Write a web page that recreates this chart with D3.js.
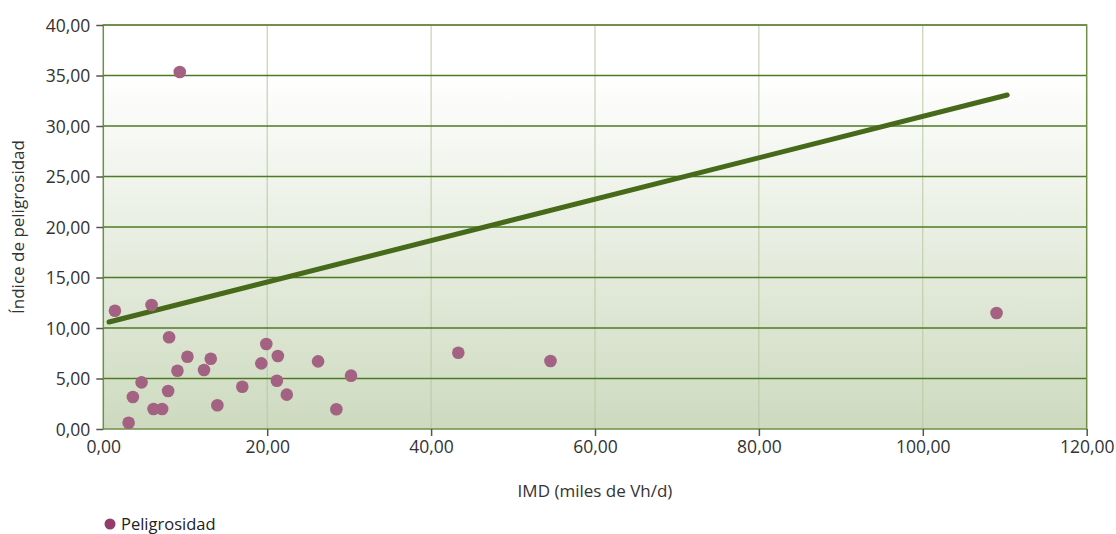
<!DOCTYPE html>
<html><head><meta charset="utf-8">
<script src="https://cdn.jsdelivr.net/npm/d3@7"></script>
<style>body{margin:0;background:#fff}svg{display:block}text{font-family:"Open Sans","Noto Sans",sans-serif}</style>
</head><body>
<svg id="c" width="1116" height="534"></svg>
<script>
const imd = [1.42,5.89,9.33,8.03,10.27,13.11,9.05,12.29,4.67,7.91,3.61,6.13,7.18,3.09,13.92,16.96,19.28,19.89,21.3,21.18,22.39,26.21,30.23,28.44,43.32,54.57,109.0];
const peligrosidad = [11.71,12.28,35.35,9.08,7.16,6.96,5.77,5.84,4.62,3.76,3.17,1.98,1.98,0.62,2.35,4.19,6.5,8.42,7.23,4.78,3.40,6.70,5.28,1.95,7.55,6.73,11.49];
const trendX = [0.7,110.3];
const trendY = [10.59,33.07];
const xTicks = [0,20,40,60,80,100,120];
const yTicks = [0,5,10,15,20,25,30,35,40];
const seriesName = "Peligrosidad";
const xTitle = "IMD (miles de Vh/d)";
const yTitle = "Índice de peligrosidad";

const svg = d3.select("#c");
const L=103.3, R=1086.7, T=25, B=429;
const x = d3.scaleLinear().domain([0,120]).range([L,R]);
const y = d3.scaleLinear().domain([0,40]).range([B,T]);
const fmt = d => d3.format(".2f")(d).replace(".",",");

const defs = svg.append("defs");
const g = defs.append("linearGradient").attr("id","bg").attr("x1",0).attr("y1",0).attr("x2",0).attr("y2",1);
g.append("stop").attr("offset","0").attr("stop-color","#ffffff");
g.append("stop").attr("offset","0.12").attr("stop-color","#ffffff");
g.append("stop").attr("offset","1").attr("stop-color","#cddabf");

svg.append("rect").attr("x",L).attr("y",T).attr("width",R-L).attr("height",B-T).attr("fill","url(#bg)");

// vertical grid
svg.append("g").selectAll("line").data(xTicks.slice(1,-1)).join("line")
  .attr("x1",d=>x(d)).attr("x2",d=>x(d)).attr("y1",T).attr("y2",B)
  .attr("stroke","#b9c9a3").attr("stroke-width",1);
// horizontal grid
svg.append("g").selectAll("line").data(yTicks.slice(1)).join("line")
  .attr("x1",L).attr("x2",R).attr("y1",d=>y(d)).attr("y2",d=>y(d))
  .attr("stroke","#4e7a24").attr("stroke-width",1.3);
// border
svg.append("rect").attr("x",L).attr("y",T).attr("width",R-L).attr("height",B-T)
  .attr("fill","none").attr("stroke","#6f8f45").attr("stroke-width",1.5);

// axes
const ya = svg.append("g").attr("transform",`translate(${L},0)`)
  .call(d3.axisLeft(y).tickValues(yTicks).tickFormat(fmt).tickSize(7).tickSizeOuter(0));
const xa = svg.append("g").attr("transform",`translate(0,${B})`)
  .call(d3.axisBottom(x).tickValues(xTicks).tickFormat(fmt).tickSize(7).tickSizeOuter(0));
[ya,xa].forEach(a=>{
  a.select(".domain").remove();
  a.selectAll(".tick line").attr("stroke","#555").attr("stroke-width",1.5);
  a.selectAll(".tick text").attr("fill","#333").style("font-size","17.5px");
});
ya.selectAll(".tick text").attr("x",-13).attr("dy","0.35em");
xa.selectAll(".tick text").attr("y",12).attr("dy","0.71em");
xa.select(".tick:first-of-type line").remove();

// trend line
svg.append("line")
  .attr("x1",x(trendX[0])).attr("y1",y(trendY[0]))
  .attr("x2",x(trendX[1])).attr("y2",y(trendY[1]))
  .attr("stroke","#46691a").attr("stroke-width",5).attr("stroke-linecap","round");

// points
svg.append("g").selectAll("circle").data(imd).join("circle")
  .attr("cx",d=>x(d)).attr("cy",(d,i)=>y(peligrosidad[i])).attr("r",6.3)
  .attr("fill","#a46283");

// titles
svg.append("text").attr("x",(L+R)/2).attr("y",497).attr("text-anchor","middle")
  .attr("fill","#333").style("font-size","17px").text(xTitle);
svg.append("text").attr("transform",`translate(24,${(T+B)/2}) rotate(-90)`).attr("text-anchor","middle")
  .attr("fill","#333").style("font-size","17px").text(yTitle);

// legend
svg.append("circle").attr("cx",110).attr("cy",524).attr("r",5.5).attr("fill","#933d6c");
svg.append("text").attr("x",121).attr("y",530).attr("fill","#222").style("font-size","16.5px").text(seriesName);
</script>
</body></html>
